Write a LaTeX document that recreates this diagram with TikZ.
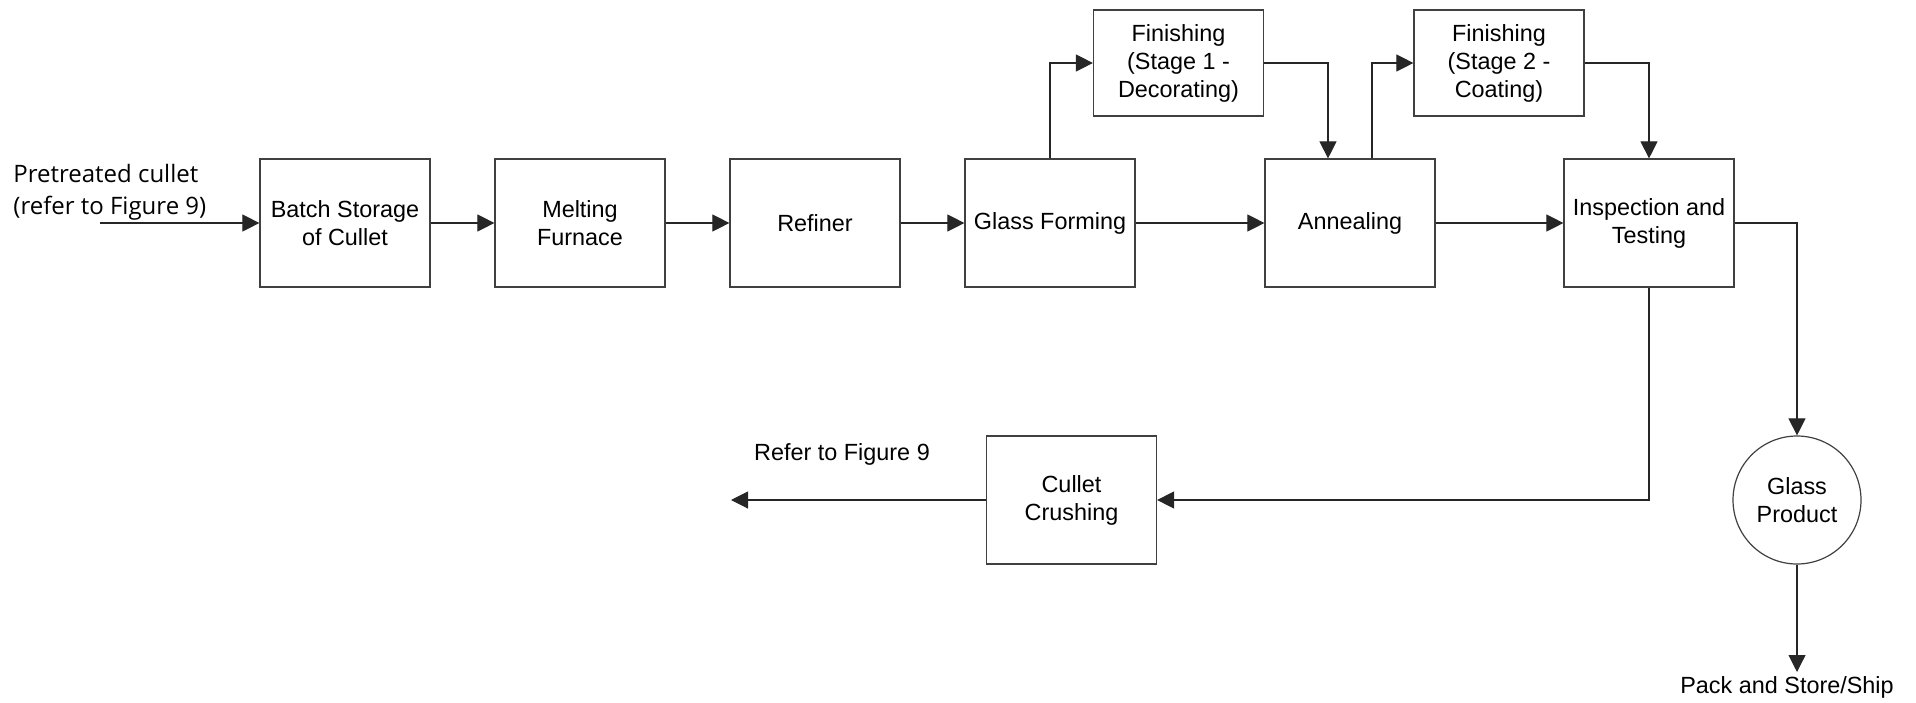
\documentclass[tikz,border=0pt]{standalone}
\usepackage{fontspec}
\setmainfont{Liberation Sans}
\newfontfamily\opensans{Open Sans}
\usetikzlibrary{arrows.meta}
\begin{document}
\begin{tikzpicture}[x=0.5pt,y=-0.5pt,
  lbl/.style={font=\fontsize{11.7}{14}\selectfont, align=center, inner sep=0pt},
  box/.style={lbl, draw=black!75, line width=0.6pt, rectangle, minimum width=85pt, minimum height=64pt},
  finbox/.style={box, minimum height=53pt},
  prodnode/.style={lbl, draw=black!75, line width=0.6pt, circle, minimum size=64pt},
  arr/.style={draw=black!85, line width=0.55pt, -{Triangle[length=8.5pt,width=8.5pt]}}
]
\useasboundingbox (0,0) rectangle (1916,702);

\node[box] (batch) at (345,223) {Batch Storage\\of Cullet};
\node[box] (melt) at (580,223) {Melting\\Furnace};
\node[box] (refiner) at (815,223) {Refiner};
\node[box] (forming) at (1050,223) {Glass Forming};
\node[box] (anneal) at (1350,223) {Annealing};
\node[box] (inspect) at (1649,223) {Inspection and\\Testing};
\node[finbox] (fin1) at (1178.5,63) {Finishing\\(Stage 1 -\\Decorating)};
\node[finbox] (fin2) at (1499,63) {Finishing\\(Stage 2 -\\Coating)};
\node[box] (crush) at (1071.5,500) {Cullet\\Crushing};
\node[prodnode] (prod) at (1797,500) {Glass\\Product};

\node[lbl, anchor=west, align=left, font=\opensans\fontsize{12}{16}\selectfont] (pretext) at (13,192) {Pretreated cullet\\(refer to Figure 9)};
\node[lbl] (fig9text) at (842,454) {Refer to Figure 9};
\node[lbl] (shiptext) at (1787,687) {Pack and Store/Ship};

\coordinate (pre) at (100,223);
\coordinate (fig9end) at (731,500);
\coordinate (ship) at (1797,672);

\draw[arr] (pre) -- (batch.west);
\draw[arr] (batch) -- (melt);
\draw[arr] (melt) -- (refiner);
\draw[arr] (refiner) -- (forming);
\draw[arr] (forming) -- (anneal);
\draw[arr] (anneal) -- (inspect);
\draw[arr] (forming.north) |- (fin1.west);
\draw[arr] (fin1.east) -| ([xshift=-11pt]anneal.north);
\draw[arr] ([xshift=11pt]anneal.north) |- (fin2.west);
\draw[arr] (fin2.east) -| (inspect.north);
\draw[arr] (inspect.east) -| (prod.north);
\draw[arr] (prod.south) -- (ship);
\draw[arr] (inspect.south) |- (crush.east);
\draw[arr] (crush.west) -- (fig9end);
\end{tikzpicture}
\end{document}
